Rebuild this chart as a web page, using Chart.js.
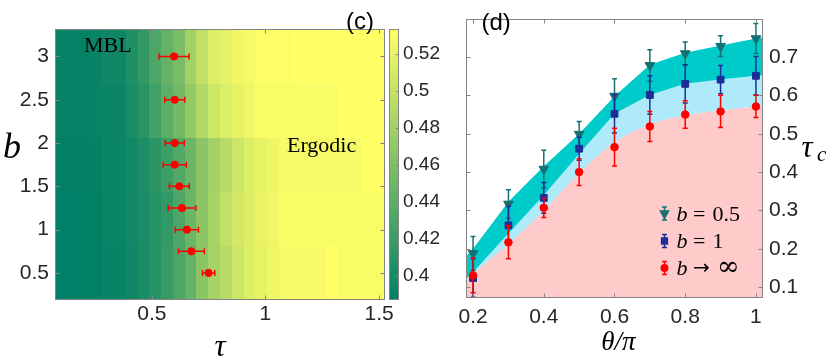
<!DOCTYPE html>
<html>
<head>
<meta charset="utf-8">
<script src="https://cdn.jsdelivr.net/npm/chart.js@4.4.1/dist/chart.umd.min.js"></script>
<style>
  html, body { margin: 0; padding: 0; background: #fff; }
  #wrap { position: relative; width: 830px; height: 359px; }
  #chartC { position: absolute; left: 0; top: 0; }
  #chartD { position: absolute; left: 430px; top: 0; }
</style>
</head>
<body>
<div id="wrap">
  <canvas id="chartC" width="450" height="359"></canvas>
  <canvas id="chartD" width="400" height="359"></canvas>
</div>
<script>
// ---------- panel (c): heat map of the order parameter ----------
const tauGrid = [0.1, 0.1519, 0.2037, 0.2556, 0.3074, 0.3593, 0.4111, 0.4630, 0.5148, 0.5667,
                 0.6185, 0.6704, 0.7222, 0.7741, 0.8259, 0.8778, 0.9296, 0.9815, 1.0333, 1.0852,
                 1.1370, 1.1889, 1.2407, 1.2926, 1.3444, 1.3963, 1.4481, 1.5];
const bGrid = [0.5, 1.125, 1.75, 2.375, 3.0];

const heatB0500 = [0.387,0.387,0.387,0.388,0.391,0.391,0.396,0.402,0.409,0.419,0.431,0.445,0.467,0.482,
                   0.492,0.504,0.513,0.518,0.524,0.527,0.527,0.527,0.527,0.533,0.530,0.530,0.530,0.530];
const heatB1125 = [0.387,0.387,0.387,0.388,0.393,0.393,0.397,0.402,0.409,0.416,0.431,0.448,0.467,0.483,
                   0.497,0.507,0.514,0.520,0.524,0.529,0.529,0.529,0.529,0.529,0.529,0.529,0.529,0.529];
const heatB1750 = [0.388,0.388,0.388,0.390,0.393,0.393,0.397,0.403,0.412,0.422,0.434,0.448,0.467,0.480,
                   0.492,0.504,0.513,0.518,0.523,0.527,0.527,0.527,0.527,0.527,0.527,0.527,0.533,0.533];
const heatB2375 = [0.390,0.390,0.390,0.391,0.394,0.394,0.402,0.410,0.425,0.440,0.453,0.472,0.489,0.504,
                   0.513,0.518,0.524,0.529,0.529,0.529,0.529,0.529,0.529,0.529,0.533,0.533,0.533,0.533];
const heatB3000 = [0.390,0.390,0.390,0.391,0.396,0.396,0.405,0.416,0.431,0.445,0.457,0.479,0.498,0.513,
                   0.518,0.524,0.527,0.532,0.532,0.532,0.533,0.533,0.533,0.533,0.533,0.533,0.533,0.533];

// critical tau with horizontal error bars
const critB   = [0.5, 0.75, 1, 1.25, 1.5, 1.75, 2, 2.5, 3];
const critTau = [0.750, 0.674, 0.654, 0.633, 0.621, 0.601, 0.601, 0.601, 0.598];
const critErr = [0.027, 0.057, 0.051, 0.061, 0.044, 0.051, 0.042, 0.044, 0.066];

const tauTicks = [0.5, 1, 1.5];
const bTicks = [0.5, 1, 1.5, 2, 2.5, 3];
const cbMin = 0.3872, cbMax = 0.533;
const cbTicks = [0.4, 0.42, 0.44, 0.46, 0.48, 0.5, 0.52];

// ---------- panel (d): tau_c versus theta/pi ----------
const thetaVals = [0.2, 0.3, 0.4, 0.5, 0.6, 0.7, 0.8, 0.9, 1.0];
const tauB05  = [0.188, 0.317, 0.408, 0.499, 0.598, 0.678, 0.709, 0.728, 0.748];
const errB05  = [0.044, 0.037, 0.049, 0.033, 0.045, 0.041, 0.030, 0.027, 0.039];
const tauB1   = [0.124, 0.261, 0.333, 0.461, 0.552, 0.601, 0.630, 0.641, 0.651];
const errB1   = [0.050, 0.050, 0.040, 0.030, 0.050, 0.050, 0.050, 0.037, 0.050];
const tauBinf = [0.131, 0.217, 0.307, 0.400, 0.465, 0.519, 0.550, 0.558, 0.571];
const errBinf = [0.045, 0.043, 0.025, 0.035, 0.049, 0.039, 0.036, 0.042, 0.029];

// shaded phase regions (edges, axis edge to axis edge)
const bandTheta = [0.18, 0.2, 0.3, 0.4, 0.5, 0.6, 0.7, 0.8, 0.9, 1.0, 1.02];
const bandTop = [0.181, 0.200, 0.323, 0.415, 0.500, 0.598, 0.680, 0.711, 0.730, 0.748, 0.752];
const bandMid = [0.121, 0.139, 0.240, 0.340, 0.447, 0.552, 0.601, 0.630, 0.641, 0.651, 0.652];
const bandLow = [0.121, 0.136, 0.213, 0.300, 0.398, 0.478, 0.524, 0.548, 0.561, 0.571, 0.573];

const thetaTicks = [0.2, 0.4, 0.6, 0.8, 1];
const tauCTicks = [0.1, 0.2, 0.3, 0.4, 0.5, 0.6, 0.7];

const frameColor = '#858585';
const tickColor = '#262626';
const tickLen = 4;

// MATLAB "summer" colormap
const summer = v => {
    let t = (v - cbMin) / (cbMax - cbMin);
    t = Math.max(0, Math.min(1, t));
    return `rgb(${Math.round(255 * t)},${Math.round(255 * (0.5 + t / 2))},102)`;
};

const drawFrame = (chart, xKey, yKey) => {
    const {ctx, chartArea: a} = chart;
    const xs = chart.scales[xKey], ys = chart.scales[yKey];
    const L = Math.round(a.left) + 0.5, R = Math.round(a.right) - 0.5;
    const T = Math.round(a.top) + 0.5, B = Math.round(a.bottom) - 0.5;
    ctx.save();
    ctx.strokeStyle = frameColor;
    ctx.lineWidth = 1;
    ctx.strokeRect(L, T, R - L, B - T);
    ctx.beginPath();
    xs.ticks.forEach(t => {
        const px = Math.round(xs.getPixelForValue(t.value)) + 0.5;
        ctx.moveTo(px, B); ctx.lineTo(px, B - tickLen);
        ctx.moveTo(px, T); ctx.lineTo(px, T + tickLen);
    });
    ys.ticks.forEach(t => {
        const py = Math.round(ys.getPixelForValue(t.value)) + 0.5;
        ctx.moveTo(L, py); ctx.lineTo(L + tickLen, py);
        ctx.moveTo(R, py); ctx.lineTo(R - tickLen, py);
    });
    ctx.stroke();
    ctx.restore();
};

// error bars drawn just before each point dataset
const errorBarPlugin = {
    id: 'errorBars',
    beforeDatasetDraw(chart, args) {
        const ds = chart.data.datasets[args.index];
        if (!ds.yErr && !ds.xErr) return;
        const {ctx, chartArea: a, scales: {x, y}} = chart;
        const cap = ds.capSize || 2.5;
        ctx.save();
        ctx.beginPath();
        ctx.rect(a.left, a.top, a.right - a.left, a.bottom - a.top);
        ctx.clip();
        ctx.strokeStyle = ds.borderColor;
        ctx.lineWidth = 1.5;
        ds.data.forEach((p, i) => {
            ctx.beginPath();
            if (ds.yErr) {
                const px = x.getPixelForValue(p.x);
                const y0 = y.getPixelForValue(p.y - ds.yErr[i]);
                const y1 = y.getPixelForValue(p.y + ds.yErr[i]);
                ctx.moveTo(px, y0); ctx.lineTo(px, y1);
                ctx.moveTo(px - cap, y0); ctx.lineTo(px + cap, y0);
                ctx.moveTo(px - cap, y1); ctx.lineTo(px + cap, y1);
            } else {
                const py = y.getPixelForValue(p.y);
                const x0 = x.getPixelForValue(p.x - ds.xErr[i]);
                const x1 = x.getPixelForValue(p.x + ds.xErr[i]);
                ctx.moveTo(x0, py); ctx.lineTo(x1, py);
                ctx.moveTo(x0, py - cap); ctx.lineTo(x0, py + cap);
                ctx.moveTo(x1, py - cap); ctx.lineTo(x1, py + cap);
            }
            ctx.stroke();
        });
        ctx.restore();
    }
};

const fixedTicks = vals => scale => { scale.ticks = vals.map(v => ({value: v})); };

// ---------- chart (c) ----------
const heatRows = [heatB0500, heatB1125, heatB1750, heatB2375, heatB3000];
const tauHalf = (tauGrid[1] - tauGrid[0]) / 2;
const bHalf = (bGrid[1] - bGrid[0]) / 2;

const heatmapPlugin = {
    id: 'heatmap',
    beforeDatasetsDraw(chart) {
        const {ctx, scales: {x, y}} = chart;
        ctx.save();
        heatRows.forEach((row, i) => {
            const y0 = Math.round(y.getPixelForValue(bGrid[i] + bHalf));
            const y1 = Math.round(y.getPixelForValue(bGrid[i] - bHalf));
            row.forEach((v, j) => {
                const x0 = Math.round(x.getPixelForValue(tauGrid[j] - tauHalf));
                const x1 = Math.round(x.getPixelForValue(tauGrid[j] + tauHalf));
                ctx.fillStyle = summer(v);
                ctx.fillRect(x0, y0, x1 - x0, y1 - y0);
            });
        });
        ctx.restore();
    }
};

const panelCDecor = {
    id: 'panelCDecor',
    afterDraw(chart) {
        const {ctx, chartArea: a} = chart;
        drawFrame(chart, 'x', 'y');

        // colour bar
        const cb = chart.scales.cb;
        const x0 = Math.round(a.right) + 4, w = 10;
        const top = cb.getPixelForValue(cbMax), bot = cb.getPixelForValue(cbMin);
        ctx.save();
        for (let py = Math.floor(top); py < Math.ceil(bot); py++) {
            ctx.fillStyle = summer(cb.getValueForPixel(py + 0.5));
            ctx.fillRect(x0, py, w, 1);
        }
        ctx.strokeStyle = frameColor;
        ctx.lineWidth = 1;
        ctx.strokeRect(x0 + 0.5, Math.round(top) + 0.5, w - 1, Math.round(bot - top) - 1);
        ctx.beginPath();
        cbTicks.forEach(v => {
            const py = Math.round(cb.getPixelForValue(v)) + 0.5;
            ctx.moveTo(x0 + w - 1, py); ctx.lineTo(x0 + w - 3, py);
        });
        ctx.stroke();

        // labels
        ctx.fillStyle = '#000';
        ctx.textBaseline = 'alphabetic';
        ctx.textAlign = 'left';
        ctx.font = '22px "Liberation Serif"';
        ctx.fillText('MBL', 84, 51.5);
        ctx.fillText('Ergodic', 287, 151.5);
        ctx.font = '24px "Liberation Sans"';
        ctx.fillText('(c)', 346, 29);
        ctx.font = 'italic 36px "Liberation Serif"';
        ctx.fillText('b', 3, 158);
        ctx.textAlign = 'center';
        ctx.font = 'italic 31px "Liberation Serif"';
        ctx.fillText('\u03C4', (a.left + a.right) / 2, 356);
        ctx.restore();
    }
};

const tickFontC = {family: '"Liberation Sans", Arial, sans-serif', size: 21};

new Chart(document.getElementById('chartC'), {
    type: 'scatter',
    data: {
        datasets: [{
            data: critB.map((b, i) => ({x: critTau[i], y: b})),
            xErr: critErr,
            capSize: 3,
            pointRadius: 3.6,
            backgroundColor: '#ff0000',
            borderColor: '#ff0000',
            borderWidth: 1
        }]
    },
    options: {
        responsive: false,
        animation: false,
        events: [],
        layout: {padding: {top: 6, left: 0, right: 0, bottom: 0}},
        plugins: {legend: {display: false}, tooltip: {enabled: false}},
        scales: {
            x: {
                type: 'linear',
                min: tauGrid[0] - tauHalf,
                max: tauGrid[tauGrid.length - 1] + tauHalf,
                afterBuildTicks: fixedTicks(tauTicks),
                afterFit: s => { s.height = 59; },
                grid: {display: false, drawTicks: false},
                border: {display: false},
                ticks: {font: tickFontC, color: tickColor, padding: 2, maxRotation: 0, callback: v => String(v)}
            },
            y: {
                type: 'linear',
                position: 'left',
                min: bGrid[0] - bHalf,
                max: bGrid[bGrid.length - 1] + bHalf,
                afterBuildTicks: fixedTicks(bTicks),
                afterFit: s => { s.width = 55; },
                grid: {display: false, drawTicks: false},
                border: {display: false},
                ticks: {font: tickFontC, color: tickColor, padding: 6, callback: v => String(v)}
            },
            cb: {
                type: 'linear',
                axis: 'y',
                position: 'right',
                min: cbMin,
                max: cbMax,
                afterBuildTicks: fixedTicks(cbTicks),
                afterFit: s => { s.width = 65; },
                grid: {display: false, drawTicks: false},
                border: {display: false},
                ticks: {font: {family: '"Liberation Sans", Arial, sans-serif', size: 19}, color: tickColor, padding: 18, callback: v => String(v)}
            }
        }
    },
    plugins: [heatmapPlugin, errorBarPlugin, panelCDecor]
});

// ---------- chart (d) ----------
const colTeal = '#167070', colBlue = '#1c2e96', colRed = '#ff0000';
const fillTeal = '#00cbcb', fillBlue = '#aeeafa', fillPink = '#ffcaca';

const pts = (xs, ys) => xs.map((t, i) => ({x: t, y: ys[i]}));

const legendItems = [
    {ds: 0, y: 213.5, rhs: ['=', '0.5']},
    {ds: 1, y: 241, rhs: ['=', '1']},
    {ds: 2, y: 268, rhs: ['\u2192', '\u221E']}
];

const panelDDecor = {
    id: 'panelDDecor',
    afterDraw(chart) {
        const {ctx, chartArea: a} = chart;
        drawFrame(chart, 'x', 'y');
        ctx.save();
        // legend
        const lx = 234.5;
        legendItems.forEach(item => {
            const ds = chart.data.datasets[item.ds];
            ctx.strokeStyle = ds.borderColor;
            ctx.lineWidth = 1.5;
            ctx.beginPath();
            ctx.moveTo(lx, item.y - 6.5); ctx.lineTo(lx, item.y + 6.5);
            ctx.moveTo(lx - 2.5, item.y - 6.5); ctx.lineTo(lx + 2.5, item.y - 6.5);
            ctx.moveTo(lx - 2.5, item.y + 6.5); ctx.lineTo(lx + 2.5, item.y + 6.5);
            ctx.stroke();
            ctx.fillStyle = ds.backgroundColor;
            Chart.helpers.drawPoint(ctx, {
                pointStyle: ds.pointStyle, rotation: ds.rotation || 0,
                radius: ds.pointRadius * 0.85, borderWidth: 1
            }, lx, item.y);
            ctx.fillStyle = '#000';
            ctx.textAlign = 'left';
            ctx.textBaseline = 'alphabetic';
            const base = item.y + 7;
            ctx.font = 'italic 22px "Liberation Serif"';
            ctx.fillText('b', 246.5, base);
            if (item.rhs[0] === '=') {
                ctx.font = '22px "Liberation Serif"';
                ctx.fillText('=', 263, base);
                ctx.fillText(item.rhs[1], 282.5, base);
            } else {
                ctx.font = '20px "DejaVu Sans"';
                ctx.fillText(item.rhs[0], 263, base - 1);
                ctx.font = '27px "DejaVu Serif"';
                ctx.fillText(item.rhs[1], 287, base);
            }
        });
        // labels
        ctx.fillStyle = '#000';
        ctx.textAlign = 'left';
        ctx.font = '24px "Liberation Sans"';
        ctx.fillText('(d)', 51.5, 30);
        ctx.font = 'italic 31px "Liberation Serif"';
        ctx.fillText('\u03C4', 371.5, 156.5);
        ctx.font = 'italic 21px "Liberation Serif"';
        ctx.fillText('c', 387, 161);
        ctx.textAlign = 'center';
        ctx.font = 'italic 27px "Liberation Serif"';
        ctx.fillText('\u03B8/\u03C0', (a.left + a.right) / 2 + 4, 350);
        ctx.restore();
    }
};

const tickFontD = {family: '"Liberation Sans", Arial, sans-serif', size: 21};

new Chart(document.getElementById('chartD'), {
    type: 'line',
    data: {
        datasets: [
            {
                label: 'b = 0.5', data: pts(thetaVals, tauB05), yErr: errB05, order: 3,
                showLine: false, fill: false, pointStyle: 'triangle', rotation: 180, pointRadius: 5.6,
                backgroundColor: colTeal, borderColor: colTeal, borderWidth: 1
            },
            {
                label: 'b = 1', data: pts(thetaVals, tauB1), yErr: errB1, order: 2,
                showLine: false, fill: false, pointStyle: 'rect', pointRadius: 4.8,
                backgroundColor: colBlue, borderColor: colBlue, borderWidth: 1
            },
            {
                label: 'b -> inf', data: pts(thetaVals, tauBinf), yErr: errBinf, order: 1,
                showLine: false, fill: false, pointStyle: 'circle', pointRadius: 3.8,
                backgroundColor: colRed, borderColor: colRed, borderWidth: 1
            },
            {
                data: pts(bandTheta, bandLow), order: 6, fill: 'start', tension: 0.4,
                cubicInterpolationMode: 'monotone',
                backgroundColor: fillPink, borderWidth: 0, pointRadius: 0
            },
            {
                data: pts(bandTheta, bandMid), order: 5, fill: '-1',
                backgroundColor: fillBlue, borderWidth: 0, pointRadius: 0
            },
            {
                data: pts(bandTheta, bandTop), order: 4, fill: '-1',
                backgroundColor: fillTeal, borderWidth: 0, pointRadius: 0
            }
        ]
    },
    options: {
        responsive: false,
        animation: false,
        events: [],
        layout: {padding: {top: 5, left: 36, right: 0, bottom: 0}},
        plugins: {legend: {display: false}, tooltip: {enabled: false}, filler: {propagate: false}},
        scales: {
            x: {
                type: 'linear',
                min: 0.18,
                max: 1.02,
                afterBuildTicks: fixedTicks(thetaTicks),
                afterFit: s => { s.height = 61; },
                grid: {display: false, drawTicks: false},
                border: {display: false},
                ticks: {font: tickFontD, color: tickColor, padding: 7, maxRotation: 0, callback: v => String(v)}
            },
            y: {
                type: 'linear',
                position: 'right',
                min: 0.072,
                max: 0.8,
                afterBuildTicks: fixedTicks(tauCTicks),
                afterFit: s => { s.width = 67; },
                grid: {display: false, drawTicks: false},
                border: {display: false},
                ticks: {font: tickFontD, color: tickColor, padding: 6, callback: v => String(v)}
            }
        }
    },
    plugins: [errorBarPlugin, panelDDecor]
});
</script>
</body>
</html>
